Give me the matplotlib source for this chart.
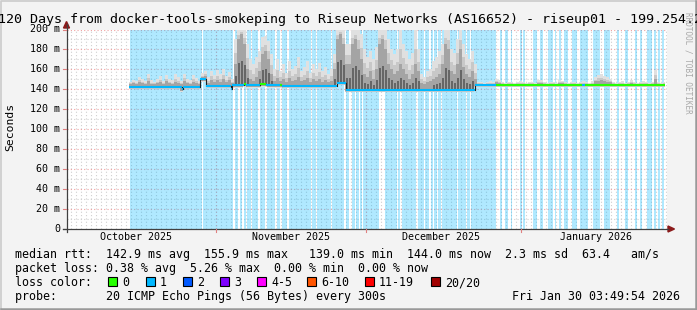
import datetime as dt
import numpy as np
import matplotlib
matplotlib.use("Agg")
import matplotlib.pyplot as plt
from matplotlib.patches import Rectangle, Polygon

# ---------------- data (days since graph start) ----------------
graph_end = dt.datetime(2026, 1, 30, 3, 49, 54)
span_days = 120
month_starts = [dt.datetime(2025, 11, 1), dt.datetime(2025, 12, 1), dt.datetime(2026, 1, 1)]
month_label_dates = [dt.datetime(2025, 10, 16), dt.datetime(2025, 11, 16),
                     dt.datetime(2025, 12, 16), dt.datetime(2026, 1, 16)]
month_labels = ["October 2025", "November 2025", "December 2025", "January 2026"]

# median rtt (ms), step segments; loss index selects the line colour
median_start = [12.46, 22.9, 23.2, 26.6, 27.8, 32.7, 33.0, 35.3, 35.8, 38.6, 39.8, 42.6, 43.0,
                54.0, 55.8, 81.6, 85.7, 103.0, 103.6]
median_value = [142.8, 140.0, 142.8, 150.0, 143.5, 140.5, 144.0, 145.0, 144.0, 145.0, 144.0, 144.0, 143.5,
                146.5, 139.8, 144.5, 144.5, 144.5, 144.5]
median_loss = [1, 1, 1, 1, 1, 1, 1, 0, 1, 0, 1, 0, 1,
               1, 1, 1, 0, 1, 0]
median_last = 119.6

# smoke: slots of 0.6 day starting at day 12.46; max ping and upper-quartile ping (ms)
smoke_first_day = 12.46
smoke_slot = 0.6
smoke_max = [147, 149, 148, 152, 150, 148, 155, 149, 147, 150, 153, 148, 154, 150, 149, 155, 152, 148, 155, 150, 149, 154, 151, 148,
             156, 158,
             152, 158, 154, 159, 155, 160, 153, 157, 150,
             190, 200, 200, 200, 185, 170, 165, 172, 178, 192, 193, 188, 175,
             160, 170, 158, 165, 156, 168, 160, 163, 172, 158, 162, 168, 156, 165, 160, 166, 158, 162, 155, 160,
             175, 200, 200, 200, 185,
             185, 200, 200, 200, 195, 180, 172, 178, 170, 182, 200, 200,
             200, 190, 180,
             175, 180, 200, 185, 178, 170, 176, 200, 180,
             155, 152, 158, 160,
             168, 172, 178, 185, 200, 200, 180, 176, 190, 200, 185, 175, 170, 178, 165,
             147, 147, 146, 147, 148, 147,
             150, 149,
             147, 146, 147, 147, 146, 147, 148, 147, 146, 147, 147, 146,
             149, 149,
             147, 146, 147, 147, 146,
             149, 148,
             147, 146, 147, 147, 146, 147, 148, 147, 146, 148,
             152, 154, 155, 153, 152, 150,
             147, 146, 147, 148, 146, 147, 149, 147, 146, 147, 148, 147, 146, 147,
             159,
             147, 146, 147]
smoke_q3 = [145, 146, 145, 147, 146, 145, 148, 145, 145, 146, 147, 145, 148, 146, 145, 147, 146, 145, 148, 146, 145, 147, 146, 145,
            152, 153,
            146, 149, 147, 149, 147, 150, 147, 149, 146,
            165, 190, 195, 185, 160, 150, 148, 152, 158, 175, 178, 170, 155,
            148, 151, 148, 150, 147, 151, 148, 149, 152, 148, 149, 151, 147, 150, 148, 150, 147, 149, 147, 148,
            160, 190, 195, 185, 165,
            165, 185, 190, 180, 170, 155, 152, 158, 150, 160, 185, 190,
            180, 165, 160,
            155, 158, 165, 160, 155, 150, 155, 165, 158,
            146, 145, 147, 148,
            150, 152, 155, 165, 185, 180, 158, 155, 165, 180, 162, 155, 152, 158, 150,
            145.5, 145.5, 145.5, 145.5, 145.5, 145.5,
            147, 146.5,
            145.5, 145.5, 145.5, 145.5, 145.5, 145.5, 145.5, 145.5, 145.5, 145.5, 145.5, 145.5,
            146.5, 146.5,
            145.5, 145.5, 145.5, 145.5, 145.5,
            146.5, 146,
            145.5, 145.5, 145.5, 145.5, 145.5, 145.5, 145.5, 145.5, 145.5, 145.5,
            148, 148.5, 149, 148, 147.5, 147,
            145.5, 145.5, 145.5, 145.5, 145.5, 145.5, 146, 145.5, 145.5, 145.5, 145.5, 145.5, 145.5, 145.5,
            150,
            145.5, 145.5, 145.5]

# loss background bands (days)
band_start = [12.5, 27.2, 33.6, 34.5, 35.3, 36.0, 37.0, 38.6, 40.0, 41.9, 42.9, 44.3, 49.0, 50.0,
              53.0, 55.7, 57.0, 57.8, 58.6, 59.2, 63.6, 66.2, 67.0, 70.1, 71.6, 72.8, 73.4, 74.2,
              75.0, 78.2, 80.0, 80.8,
              86.6, 87.6, 88.8, 90.6, 91.2, 93.2, 94.6, 96.2, 97.6, 98.4, 99.4, 101.0, 102.6,
              105.2, 107.4, 110.0, 111.6, 113.6, 114.6, 116.0, 117.3, 118.2, 119.0]
band_end = [26.9, 33.2, 34.2, 35.0, 35.7, 36.7, 38.2, 39.6, 41.6, 42.6, 44.0, 48.7, 49.7, 52.7,
            55.4, 56.4, 57.5, 58.3, 58.9, 62.4, 65.9, 66.6, 69.7, 71.3, 72.4, 73.1, 73.9, 74.7,
            77.9, 79.7, 80.5, 85.7,
            87.0, 88.2, 89.0, 90.9, 91.6, 94.0, 95.2, 97.2, 97.8, 98.8, 100.2, 102.0, 104.2,
            106.6, 108.6, 110.4, 112.2, 114.0, 115.0, 117.0, 117.8, 118.6, 119.4]

loss_colors = ["#26ff00", "#00b8ff", "#0059ff", "#7e00ff", "#ff00ff", "#ff5500", "#ff0000", "#a00000"]
loss_names = ["0", "1", "2", "3", "4-5", "6-10", "11-19", "20/20"]

stats_line1 = "median rtt:  142.9 ms avg  155.9 ms max   139.0 ms min  144.0 ms now  2.3 ms sd  63.4   am/s"
stats_line2 = "packet loss: 0.38 % avg  5.26 % max  0.00 % min  0.00 % now"
probe_line = "probe:       20 ICMP Echo Pings (56 Bytes) every 300s"
stamp = "Fri Jan 30 03:49:54 2026"
title = "120 Days from docker-tools-smokeping to Riseup Networks (AS16652) - riseup01 - 199.254.2"

# ---------------- layout ----------------
W, H = 697, 310
MONO = "DejaVu Sans Mono"
fig = plt.figure(figsize=(W / 100, H / 100), dpi=100)
fig.patch.set_facecolor("#f3f3f3")

X0, X1, YT, YB = 67, 667, 29.5, 229
ax = fig.add_axes([X0 / W, 1 - YB / H, (X1 - X0) / W, (YB - YT) / H])
ax.set_xlim(0, span_days)
ax.set_ylim(0, 200)
ax.set_facecolor("white")
for s in ax.spines.values():
    s.set_visible(False)
ax.set_xticks([])
ax.set_yticks([])

start = graph_end - dt.timedelta(days=span_days)
def day(t):
    return (t - start).total_seconds() / 86400.0

# grid
minor_col = "#d0d0d0"
major_col = "#f0a0a0"
dots = (0, (1, 2))
for v in range(10, 201, 20):
    ax.axhline(v, color=minor_col, lw=0.8, ls=dots, zorder=1)
d0 = day(dt.datetime(2025, 10, 3))
for k in range(0, 121):
    x = d0 + k
    if x > span_days:
        break
    ax.axvline(x, color=minor_col, lw=0.8, ls=dots, zorder=1)
for v in range(20, 201, 20):
    ax.axhline(v, color=major_col, lw=0.8, ls=dots, zorder=1.5)
for m in month_starts:
    ax.axvline(day(m), color=major_col, lw=0.8, ls=dots, zorder=1.5)

# loss bands
for a, b in zip(band_start, band_end):
    ax.add_patch(Rectangle((a, 0), b - a, 200, facecolor="#00b8ff", alpha=0.31,
                           edgecolor="none", zorder=2))

def median_at(d):
    ks = [k for k in range(len(median_start)) if median_start[k] <= d + 1e-9]
    return median_value[ks[-1] if ks else 0]

# smoke: shaded layers, lighter towards the extremes (like smokeping)
slot_days = smoke_first_day + smoke_slot * np.arange(len(smoke_max))
for d, top, q3 in zip(slot_days, smoke_max, smoke_q3):
    d_end = min(d + smoke_slot, median_last)
    if d_end <= d:
        continue
    w = d_end - d
    m = median_at(d + 0.3)
    lo = m - 2.5
    upper_mid = q3 + (top - q3) * 0.45
    ax.add_patch(Rectangle((d, lo), w, top - lo, facecolor="#e0e0e0", edgecolor="none", zorder=3))
    ax.add_patch(Rectangle((d, lo + 0.5), w, upper_mid - lo - 0.5, facecolor="#c8c8c8",
                           edgecolor="none", zorder=3.05))
    ax.add_patch(Rectangle((d, m - 1.5), w, q3 - m + 1.5, facecolor="#a4a4a4",
                           edgecolor="none", zorder=3.1))
    if q3 - m > 10:
        ax.add_patch(Rectangle((d + 0.2, m - 1), 0.25, (q3 - m) * 0.5,
                               facecolor="#666666", edgecolor="none", zorder=3.2))
    if q3 >= 185:
        ax.add_patch(Rectangle((d + 0.25, m), 0.12, top - m, facecolor="#3c3c3c",
                               edgecolor="none", zorder=3.3))

# median
mx = median_start + [median_last]
for i in range(len(median_start)):
    ax.plot([mx[i], mx[i + 1]], [median_value[i]] * 2, color=loss_colors[median_loss[i]],
            lw=1.5, solid_capstyle="butt", zorder=4)
    if i + 1 < len(median_start) and median_value[i] != median_value[i + 1]:
        ax.plot([mx[i + 1]] * 2, [median_value[i], median_value[i + 1]],
                color="#202020", lw=0.8, zorder=4)

# ---------------- overlay in pixel coordinates ----------------
ov = fig.add_axes([0, 0, 1, 1], zorder=10)
ov.set_xlim(0, W)
ov.set_ylim(H, 0)
ov.axis("off")
ov.patch.set_alpha(0)

def px_x(d):
    return X0 + d / span_days * (X1 - X0)

def px_y(v):
    return YB - v / 200 * (YB - YT)

# axes lines + arrows
ov.plot([X0 - 0.5, X0 - 0.5], [YB + 3, 24], color="#404040", lw=0.9)
ov.plot([X0 - 4, 668], [YB, YB], color="#404040", lw=0.9)
ov.add_patch(Polygon([[X0 - 3.5, 28], [X0 + 2.5, 28], [X0 - 0.5, 21.5]], color="#8b1a1a"))
ov.add_patch(Polygon([[668, YB - 3], [668, YB + 3], [674.5, YB]], color="#8b1a1a"))

# y tick labels and ticks
for v in range(0, 201, 20):
    y = px_y(v)
    lab = "0" if v == 0 else f"{v} m"
    ov.text(60.5, y, lab, family=MONO, fontsize=7.2, ha="right", va="center", color="black")
    ov.plot([X0 - 4, X0 - 1], [y, y], color="#e08080" if v else "#404040", lw=0.8)
# x ticks
for m in month_starts:
    x = px_x(day(m))
    ov.plot([x, x], [YB, YB + 3], color="#e08080", lw=0.8)
for lab, d in zip(month_labels, month_label_dates):
    ov.text(px_x(day(d)), 240.5, lab, family=MONO, fontsize=7.2, ha="center",
            va="baseline", color="black")

ov.text(10, 127, "Seconds", family=MONO, fontsize=8.2, rotation=90, ha="center",
        va="center", color="black")

# title
ov.text(-1.5, 23.5, title, family=MONO, fontsize=9.6, ha="left", va="baseline", color="black")
ov.text(688, 12, "RRDTOOL / TOBI OETIKER", family=MONO, fontsize=5.5, rotation=270,
        ha="center", va="top", color="#a8a8a8")

# legend
LX = 15.3
ov.text(LX, 258, stats_line1, family=MONO, fontsize=8.4, ha="left", va="baseline")
ov.text(LX, 272, stats_line2, family=MONO, fontsize=8.4, ha="left", va="baseline")
ov.text(LX, 286, "loss color:", family=MONO, fontsize=8.4, ha="left", va="baseline")
box_x = [108, 146, 183, 220, 257, 307, 365, 431]
for bx, col, name in zip(box_x, loss_colors, loss_names):
    ov.add_patch(Rectangle((bx, 276.5), 9, 9, facecolor=col, edgecolor="black", lw=0.8))
    ov.text(bx + 14, 286, name, family=MONO, fontsize=8.4, ha="left", va="baseline")
ov.text(LX, 300, probe_line, family=MONO, fontsize=8.4, ha="left", va="baseline")
ov.text(680.5, 300, stamp, family=MONO, fontsize=8.4, ha="right", va="baseline")

# 3D frame
ov.plot([0.5, 0.5, W - 1], [H - 1, 0.5, 0.5], color="#cbcbcb", lw=1.2)
ov.plot([1, W - 1.2, W - 1.2], [H - 1.2, H - 1.2, 1], color="#999999", lw=1.8)

fig.savefig("out.png", dpi=100, facecolor=fig.get_facecolor())
